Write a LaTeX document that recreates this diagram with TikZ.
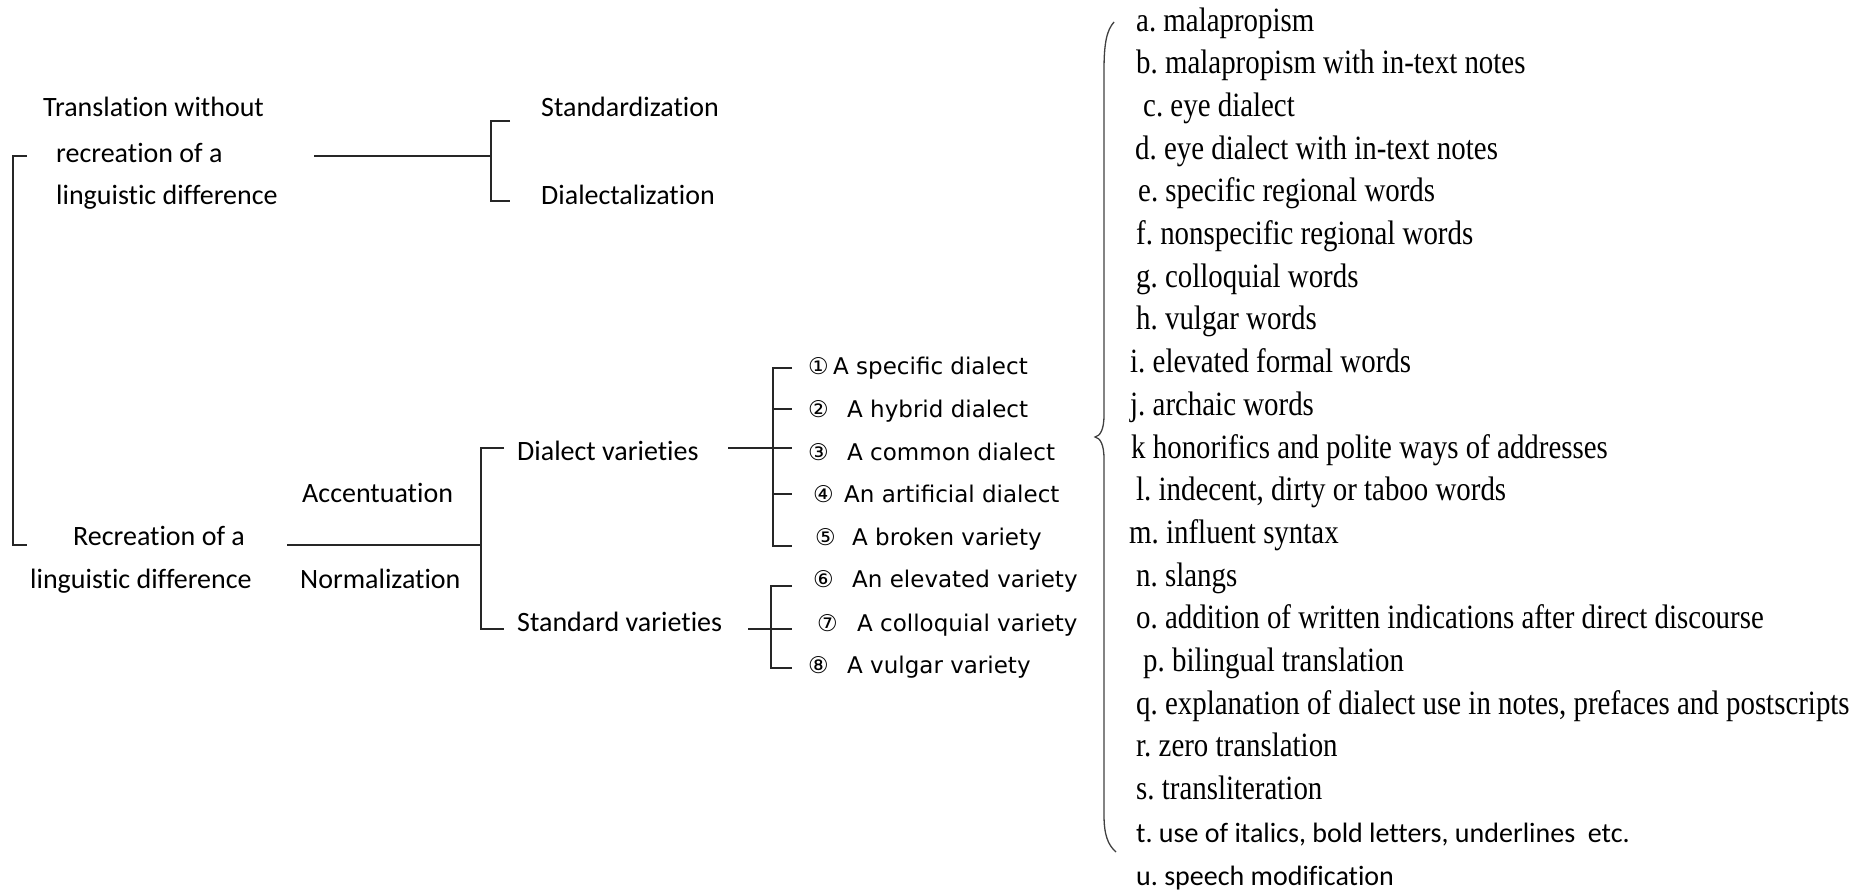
\documentclass[tikz,border=0pt]{standalone}
\usepackage{fontspec}
\setmainfont[Ligatures=NoCommon]{Carlito}
\newfontfamily\numfont{DejaVu Sans}
\newfontfamily\serfont[FakeStretch=0.85]{Liberation Serif}
\frenchspacing
% circled number followed by a fixed gap before the label text
\newcommand\circnum[2]{\makebox[#1pt][l]{#2}}
\begin{document}
\begin{tikzpicture}[x=1pt,y=-1pt,
  lbl/.style={anchor=base west,inner sep=0pt,font=\fontsize{28}{32}\selectfont},
  var/.style={anchor=base west,inner sep=0pt,font=\numfont\fontsize{23}{28}\selectfont},
  ser/.style={anchor=base west,inner sep=0pt,font=\serfont\fontsize{34}{40}\selectfont},
  link/.style={line width=1.6pt,black!85},
  brace/.style={line width=1.3pt,black!75},
]
\useasboundingbox (0,0) rectangle (1852,894);

% ---- first level
\node[lbl] (t1) at (43,116) {Translation without};
\node[lbl] (t2) at (56,162) {recreation of a};
\node[lbl] (t3) at (56,204) {linguistic difference};
\node[lbl] (r1) at (73,545) {Recreation of a};
\node[lbl] (r2) at (30,588) {linguistic difference};

% ---- second level
\node[lbl] (std) at (541,116) {Standardization};
\node[lbl] (dia) at (541,204) {Dialectalization};
\node[lbl] (acc) at (302,502) {Accentuation};
\node[lbl] (nor) at (300,588) {Normalization};
\node[lbl] (dv) at (517,460) {Dialect varieties};
\node[lbl] (sv) at (517,631) {Standard varieties};

% ---- varieties
\node[var] (v1) at (808,374) {\circnum{25}{①}A specific dialect};
\node[var] (v2) at (808,417) {\circnum{39}{②}A hybrid dialect};
\node[var] (v3) at (808,460) {\circnum{39}{③}A common dialect};
\node[var] (v4) at (813,502) {\circnum{31}{④}An artificial dialect};
\node[var] (v5) at (815,545) {\circnum{37}{⑤}A broken variety};
\node[var] (v6) at (813,587) {\circnum{39}{⑥}An elevated variety};
\node[var] (v7) at (817,631) {\circnum{40}{⑦}A colloquial variety};
\node[var] (v8) at (808,673) {\circnum{39}{⑧}A vulgar variety};

% ---- strategies
\node[ser] (ia) at (1136,31.0) {a. malapropism};
\node[ser] (ib) at (1136,73.7) {b. malapropism with in-text notes};
\node[ser] (ic) at (1143,116.4) {c. eye dialect};
\node[ser] (id) at (1135,159.1) {d. eye dialect with in-text notes};
\node[ser] (ie) at (1138,201.8) {e. specific regional words};
\node[ser] (if) at (1136,244.5) {f. nonspecific regional words};
\node[ser] (ig) at (1136,287.2) {g. colloquial words};
\node[ser] (ih) at (1136,329.9) {h. vulgar words};
\node[ser] (ii) at (1130,372.6) {i. elevated formal words};
\node[ser] (ij) at (1130,415.3) {j. archaic words};
\node[ser] (ik) at (1131,458.0) {k honorifics and polite ways of addresses};
\node[ser] (il) at (1136,500.7) {l. indecent, dirty or taboo words};
\node[ser] (im) at (1129,543.4) {m. influent syntax};
\node[ser] (in) at (1136,586.1) {n. slangs};
\node[ser] (io) at (1136,628.8) {o. addition of written indications after direct discourse};
\node[ser] (ip) at (1143,671.5) {p. bilingual translation};
\node[ser] (iq) at (1136,714.2) {q. explanation of dialect use in notes, prefaces and postscripts};
\node[ser] (ir) at (1136,756.9) {r. zero translation};
\node[ser] (is) at (1136,799.6) {s. transliteration};
\node[lbl] (it) at (1136,842.3) {t. use of italics, bold letters, underlines\ \ etc.};
\node[lbl] (iu) at (1136,885.0) {u. speech modification};

% ---- root bracket
\coordinate (rootT) at (27,156);
\coordinate (rootB) at (27,545);
\coordinate (rootV) at (13,0);
\draw[link] (rootT) -- (rootT -| rootV) -- (rootB -| rootV) -- (rootB);

% ---- bracket: translation without recreation
\coordinate (aL) at (314,156);
\coordinate (aJ) at (491,156);
\coordinate (aT) at (510,121);
\coordinate (aB) at (510,201);
\draw[link] (aL) -- (aJ);
\draw[link] (aT) -| (aJ |- aB) -- (aB);

% ---- bracket: recreation
\coordinate (bL) at (287,545);
\coordinate (bJ) at (481,545);
\coordinate (bT) at (504,448);
\coordinate (bB) at (504,629);
\draw[link] (bL) -- (bJ);
\draw[link] (bT) -| (bJ |- bB) -- (bB);

% ---- bracket: dialect varieties
\coordinate (cL) at (728,448);
\coordinate (cR) at (792,448);
\coordinate (cV) at (773,0);
\coordinate (c1) at (792,368);
\coordinate (c2) at (792,409);
\coordinate (c4) at (792,494);
\coordinate (c5) at (792,546);
\draw[link] (cL) -- (cR);
\draw[link] (c1) -- (c1 -| cV) -- (c5 -| cV) -- (c5);
\draw[link] (c2 -| cV) -- (c2);
\draw[link] (c4 -| cV) -- (c4);

% ---- bracket: standard varieties
\coordinate (dL) at (748,629);
\coordinate (dR) at (792,629);
\coordinate (dV) at (771,0);
\coordinate (d1) at (792,586);
\coordinate (d3) at (792,668);
\draw[link] (dL) -- (dR);
\draw[link] (d1) -- (d1 -| dV) -- (d3 -| dV) -- (d3);

% ---- large brace in front of the strategies
\coordinate (braceTip) at (1095,437);
\draw[brace] (1114,22) .. controls (1107,30) and (1104,42) .. (1104,70)
  -- (1104,415) .. controls (1104,430) and (1100,436) .. (braceTip)
  .. controls (1100,438) and (1104,444) .. (1104,459)
  -- (1104,815) .. controls (1104,835) and (1108,845) .. (1116,852);
\end{tikzpicture}
\end{document}
